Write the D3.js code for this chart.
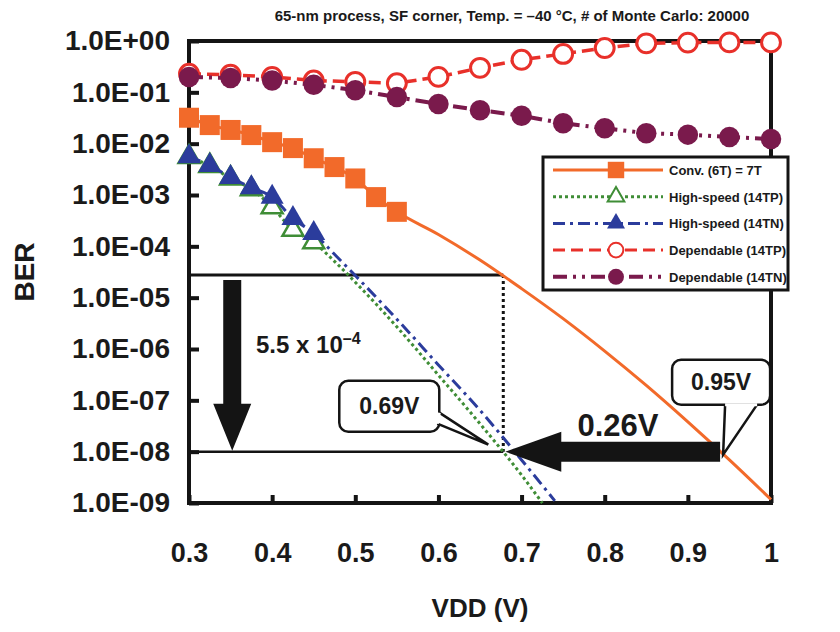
<!DOCTYPE html>
<html>
<head>
<meta charset="utf-8">
<script src="https://cdn.jsdelivr.net/npm/d3@7"></script>
<style>
  body { margin: 0; background: #fff; }
  text { font-family: "Liberation Sans", Arial, Helvetica, sans-serif; font-weight: bold; fill: #1a1a1a; }
</style>
</head>
<body>
<svg id="chart" width="840" height="632"></svg>
<script>
// ---- data ----
const xTicks = [0.3, 0.4, 0.5, 0.6, 0.7, 0.8, 0.9, 1.0];
const yTicks = [1, 1e-1, 1e-2, 1e-3, 1e-4, 1e-5, 1e-6, 1e-7, 1e-8, 1e-9];

// Conv. (6T) = 7T : simulated points + extrapolated curve
const convV   = [0.3, 0.325, 0.35, 0.375, 0.4, 0.425, 0.45, 0.475, 0.5, 0.525, 0.55];
const convBER = [3.2e-2, 2.3e-2, 1.85e-2, 1.47e-2, 1.07e-2, 8.2e-3, 5.2e-3, 3.5e-3, 2.1e-3, 9.1e-4, 4.7e-4];
const convFitV   = [0.55, 0.6, 0.65, 0.7, 0.75, 0.8, 0.85, 0.9, 0.95, 1.0];
const convFitBER = [4.7e-4, 1.7e-4, 5.4e-5, 1.5e-5, 3.9e-6, 9.1e-7, 1.95e-7, 3.8e-8, 6.9e-9, 1.17e-9];

// High-speed (14TP)
const hsV     = [0.3, 0.325, 0.35, 0.375, 0.4, 0.425, 0.45];
const hsPBER  = [5.5e-3, 3.7e-3, 2.1e-3, 1.3e-3, 5.8e-4, 2.1e-4, 1.2e-4];
const hsPFitV   = [0.45, 0.475, 0.5, 0.55, 0.6, 0.65, 0.7, 0.725];
const hsPFitBER = [1.2e-4, 5.1e-5, 2.0e-5, 2.7e-6, 3.1e-7, 3.5e-8, 3.5e-9, 1.0e-9];

// High-speed (14TN)
const hsNBER  = [5.6e-3, 3.8e-3, 2.2e-3, 1.4e-3, 9.1e-4, 3.5e-4, 1.8e-4];
const hsNFitV   = [0.45, 0.475, 0.5, 0.55, 0.6, 0.65, 0.7, 0.74];
const hsNFitBER = [1.8e-4, 7.0e-5, 2.7e-5, 3.8e-6, 4.9e-7, 6.4e-8, 6.9e-9, 1.1e-9];

// Dependable (14TP / 14TN)
const depV    = [0.3, 0.35, 0.4, 0.45, 0.5, 0.55, 0.6, 0.65, 0.7, 0.75, 0.8, 0.85, 0.9, 0.95, 1.0];
const depPBER = [0.23, 0.22, 0.2, 0.17, 0.16, 0.15, 0.2, 0.3, 0.43, 0.56, 0.73, 0.9, 0.93, 0.94, 0.94];
const depNBER = [0.2, 0.19, 0.17, 0.14, 0.11, 0.081, 0.059, 0.045, 0.035, 0.025, 0.02, 0.016, 0.015, 0.0135, 0.0123];

// annotation values
const targetBER = 1e-8;
const upperBER = 2.75e-5;
const hsCrossV = 0.678;
const convCrossV = 0.94;
const arrowDownV = 0.352;

const legendLabels = ["Conv. (6T) = 7T", "High-speed (14TP)", "High-speed (14TN)", "Dependable (14TP)", "Dependable (14TN)"];

// ---- colours ----
const cOrange = "#f26a2a", cGreen = "#3f8d36", cBlue = "#2b3c9c", cRed = "#e8302a", cPurple = "#7a1a4c", cInk = "#141414";

const svg = d3.select("#chart");
const x = d3.scaleLinear().domain([0.3, 1.0]).range([189, 771]);
const y = d3.scaleLog().domain([1e-9, 1]).range([503, 41]);

// title
svg.append("text").attr("x", 512).attr("y", 21).attr("text-anchor", "middle").attr("font-size", 15)
  .text("65-nm process, SF corner, Temp. = \u201340 \u00B0C, # of Monte Carlo: 20000");

// frame
const fr = svg.append("g").attr("stroke", cInk).attr("stroke-width", 4).attr("stroke-linecap", "square");
fr.append("line").attr("x1", x(0.3)).attr("x2", x(1)).attr("y1", y(1)).attr("y2", y(1));
fr.append("line").attr("x1", x(0.3)).attr("x2", x(1)).attr("y1", y(1e-9)).attr("y2", y(1e-9));
fr.append("line").attr("x1", x(0.3)).attr("x2", x(0.3)).attr("y1", y(1)).attr("y2", y(1e-9));
fr.append("line").attr("x1", x(1)).attr("x2", x(1)).attr("y1", y(1)).attr("y2", y(1e-9));

// axes
function fmtE(d) {
  const e = Math.round(Math.log10(d));
  return "1.0E" + (e >= 0 ? "+" : "-") + String(Math.abs(e)).padStart(2, "0");
}
const gy = svg.append("g").attr("transform", `translate(${x(0.3)},0)`)
  .call(d3.axisLeft(y).tickValues(yTicks).tickSize(-10).tickPadding(19).tickFormat(fmtE));
gy.select(".domain").remove();
gy.attr("font-family", null).attr("font-size", 28).attr("color", cInk);
gy.selectAll(".tick line").attr("stroke-width", 4);

const gx = svg.append("g").attr("transform", `translate(0,${y(1e-9)})`)
  .call(d3.axisBottom(x).tickValues(xTicks).tickSize(-8).tickPadding(40).tickFormat(d => d === 1 ? "1" : d.toFixed(1)));
gx.select(".domain").remove();
gx.attr("font-family", null).attr("font-size", 27).attr("color", cInk);
gx.selectAll(".tick line").attr("stroke-width", 4);

svg.append("text").attr("x", 480).attr("y", 617).attr("text-anchor", "middle").attr("font-size", 26).text("VDD (V)");
svg.append("text").attr("transform", "translate(34,272) rotate(-90)").attr("text-anchor", "middle").attr("font-size", 28).text("BER");

// ---- annotation lines (under data) ----
const ann = svg.append("g");
ann.append("line").attr("x1", x(0.3)).attr("x2", x(hsCrossV)).attr("y1", y(upperBER)).attr("y2", y(upperBER))
  .attr("stroke", cInk).attr("stroke-width", 3);
ann.append("line").attr("x1", x(0.3)).attr("x2", x(hsCrossV)).attr("y1", y(targetBER)).attr("y2", y(targetBER))
  .attr("stroke", cInk).attr("stroke-width", 2.5);
ann.append("line").attr("x1", x(hsCrossV)).attr("x2", x(hsCrossV)).attr("y1", y(upperBER)).attr("y2", y(targetBER))
  .attr("stroke", cInk).attr("stroke-width", 3).attr("stroke-dasharray", "3,3");

// ---- series ----
const line = d3.line().x(d => x(d[0])).y(d => y(d[1]));
const smooth = d3.line().x(d => x(d[0])).y(d => y(d[1])).curve(d3.curveMonotoneX);
const zip = (a, b) => a.map((v, i) => [v, b[i]]);

function drawPath(data, gen, color, width, dash) {
  svg.append("path").datum(data).attr("d", gen).attr("fill", "none")
    .attr("stroke", color).attr("stroke-width", width).attr("stroke-dasharray", dash || null);
}
function drawMarks(data, type, size, fill, stroke, sw) {
  svg.append("g").selectAll("path").data(data).join("path")
    .attr("transform", d => `translate(${x(d[0])},${y(d[1])})`)
    .attr("d", d3.symbol().type(type).size(size))
    .attr("fill", fill).attr("stroke", stroke || "none").attr("stroke-width", sw || 0);
}

const dashGreen = "3,3", dashBlue = "12,5,3,5", dashRed = "12,6", dashPurple = "14,6,3,6,3,6";

// High-speed 14TP (green, open triangles)
drawPath(zip(hsV, hsPBER).concat(zip(hsPFitV, hsPFitBER).slice(1)), smooth, cGreen, 3, dashGreen);
drawMarks(zip(hsV, hsPBER), d3.symbolTriangle, 190, "#fff", cGreen, 2.5);
// High-speed 14TN (blue, filled triangles)
drawPath(zip(hsV, hsNBER).concat(zip(hsNFitV, hsNFitBER).slice(1)), smooth, cBlue, 3, dashBlue);
drawMarks(zip(hsV, hsNBER), d3.symbolTriangle, 230, cBlue);
// Dependable 14TP (red, open circles)
drawPath(zip(depV, depPBER), line, cRed, 3.5, dashRed);
drawMarks(zip(depV, depPBER), d3.symbolCircle, 280, "#fff", cRed, 3);
// Dependable 14TN (purple, filled circles)
drawPath(zip(depV, depNBER), line, cPurple, 4, dashPurple);
drawMarks(zip(depV, depNBER), d3.symbolCircle, 330, cPurple);
// Conv (orange, squares)
drawPath(zip(convV, convBER).concat(zip(convFitV, convFitBER).slice(1)), smooth, cOrange, 3);
drawMarks(zip(convV, convBER), d3.symbolSquare, 400, cOrange);

// ---- arrows & callouts ----
const ty = y(targetBER);
// down arrow
{
  const ax = x(arrowDownV), top = y(upperBER) + 5, headTop = ty - 48;
  svg.append("path").attr("fill", cInk)
    .attr("d", `M${ax - 9},${top}H${ax + 9}V${headTop}H${ax + 19}L${ax},${ty - 1}L${ax - 19},${headTop}H${ax - 9}Z`);
}
svg.append("text").attr("x", 256).attr("y", 353).attr("font-size", 24).text("5.5 x 10")
  .append("tspan").attr("font-size", 16).attr("dy", -9).text("\u20134");

// left arrow 0.26V
{
  const tip = x(hsCrossV) + 2, tail = x(convCrossV) - 1, headEnd = tip + 56;
  svg.append("path").attr("fill", cInk)
    .attr("d", `M${tail},${ty - 10}V${ty + 10}H${headEnd}V${ty + 20}L${tip},${ty}L${headEnd},${ty - 20}V${ty - 10}Z`);
}
svg.append("text").attr("x", 618).attr("y", 436).attr("text-anchor", "middle").attr("font-size", 31).text("0.26V");

function callout(bx, by, bw, bh, p1, p2, tip, label) {
  const r = 9;
  const g = svg.append("g");
  g.append("rect").attr("x", bx).attr("y", by).attr("width", bw).attr("height", bh).attr("rx", r)
    .attr("fill", "#fff").attr("stroke", cInk).attr("stroke-width", 2.5);
  g.append("path").attr("d", `M${p1[0]},${p1[1]}L${tip[0]},${tip[1]}L${p2[0]},${p2[1]}`)
    .attr("fill", "#fff").attr("stroke", cInk).attr("stroke-width", 2.5).attr("stroke-linejoin", "miter");
  // hide box border between pointer roots
  g.append("path").attr("d", `M${p1[0]},${p1[1]}L${p2[0]},${p2[1]}`).attr("stroke", "#fff").attr("stroke-width", 3);
  g.append("text").attr("x", bx + bw / 2).attr("y", by + bh / 2 + 8).attr("text-anchor", "middle")
    .attr("font-size", 23).text(label);
}
{
  const ax = x(hsCrossV);
  callout(ax - 164, ty - 71, 100, 51, [ax - 64, ty - 39], [ax - 66, ty - 28], [ax - 15, ty - 7], "0.69V");
  const cx = x(convCrossV);
  callout(cx - 49, ty - 92, 98, 45, [cx + 4, ty - 47], [cx + 36, ty - 47], [cx + 2, ty + 3], "0.95V");
}

// ---- legend ----
const lg = svg.append("g").attr("transform", "translate(543,157)");
lg.append("rect").attr("width", 245).attr("height", 133).attr("fill", "#fff").attr("stroke", cInk).attr("stroke-width", 3);
const legendStyle = [
  { color: cOrange, dash: null, w: 3, type: d3.symbolSquare, size: 270, fill: cOrange },
  { color: cGreen, dash: dashGreen, w: 3, type: d3.symbolTriangle, size: 120, fill: "#fff", stroke: cGreen },
  { color: cBlue, dash: dashBlue, w: 3, type: d3.symbolTriangle, size: 140, fill: cBlue },
  { color: cRed, dash: dashRed, w: 3, type: d3.symbolCircle, size: 170, fill: "#fff", stroke: cRed },
  { color: cPurple, dash: dashPurple, w: 4, type: d3.symbolCircle, size: 200, fill: cPurple }
];
legendLabels.forEach((lab, i) => {
  const s = legendStyle[i], ry = 13 + i * 26.7;
  lg.append("line").attr("x1", 10).attr("x2", 120).attr("y1", ry).attr("y2", ry)
    .attr("stroke", s.color).attr("stroke-width", s.w).attr("stroke-dasharray", s.dash);
  lg.append("path").attr("transform", `translate(73,${ry})`).attr("d", d3.symbol().type(s.type).size(s.size))
    .attr("fill", s.fill).attr("stroke", s.stroke || "none").attr("stroke-width", s.stroke ? 2 : 0);
  lg.append("text").attr("x", 126).attr("y", ry + 5).attr("font-size", 13).text(lab);
});
</script>
</body>
</html>
